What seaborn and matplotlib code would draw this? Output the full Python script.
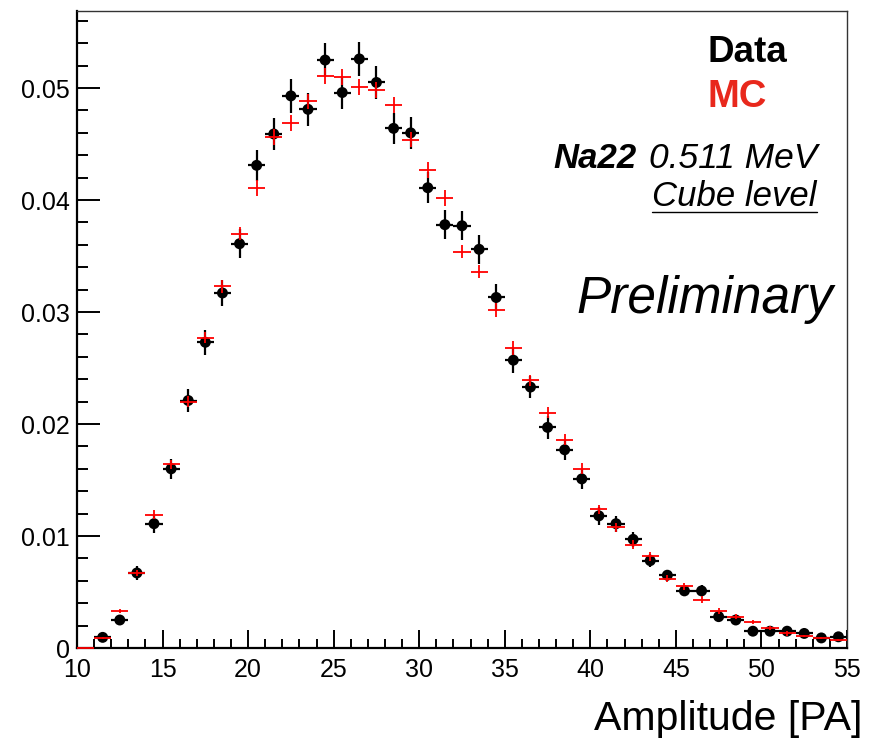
import numpy as np
import pandas as pd
import matplotlib
matplotlib.use("Agg")
import matplotlib.pyplot as plt
from matplotlib.ticker import MultipleLocator, FixedLocator, FixedFormatter
from matplotlib.lines import Line2D
import seaborn as sns

# ---------------- data ----------------
data_x = [11.5, 12.5, 13.5, 14.5, 15.5, 16.5, 17.5, 18.5, 19.5, 20.5, 21.5, 22.5,
          23.5, 24.5, 25.5, 26.5, 27.5, 28.5, 29.5, 30.5, 31.5, 32.5, 33.5, 34.5,
          35.5, 36.5, 37.5, 38.5, 39.5, 40.5, 41.5, 42.5, 43.5, 44.5, 45.5, 46.5,
          47.5, 48.5, 49.5, 50.5, 51.5, 52.5, 53.5, 54.5]
data_y = [0.00095, 0.0025, 0.0067, 0.0111, 0.0160, 0.0221, 0.0273, 0.0317, 0.0361,
          0.0431, 0.0459, 0.0493, 0.0481, 0.0525, 0.0496, 0.0526, 0.0505, 0.0464,
          0.0460, 0.0411, 0.0378, 0.0377, 0.0356, 0.0313, 0.0257, 0.0233, 0.0197,
          0.0177, 0.0151, 0.0118, 0.0111, 0.0097, 0.0078, 0.0065, 0.0051, 0.0051,
          0.0028, 0.0025, 0.0015, 0.0015, 0.0015, 0.0013, 0.0009, 0.0010]
data_err = [0.0003, 0.0004, 0.0006, 0.0008, 0.0009, 0.0010, 0.0011, 0.0012, 0.0013,
            0.0014, 0.0014, 0.0015, 0.0015, 0.0015, 0.0015, 0.0015, 0.0015, 0.0014,
            0.0014, 0.0014, 0.0013, 0.0013, 0.0013, 0.0012, 0.0011, 0.0010, 0.0010,
            0.0009, 0.0009, 0.0008, 0.0007, 0.0007, 0.0006, 0.0005, 0.0005, 0.0005,
            0.0004, 0.0004, 0.0003, 0.0003, 0.0003, 0.0003, 0.0002, 0.0002]

mc_x = [10.5, 11.5, 12.5, 13.5, 14.5, 15.5, 16.5, 17.5, 18.5, 19.5, 20.5, 21.5,
        22.5, 23.5, 24.5, 25.5, 26.5, 27.5, 28.5, 29.5, 30.5, 31.5, 32.5, 33.5,
        34.5, 35.5, 36.5, 37.5, 38.5, 39.5, 40.5, 41.5, 42.5, 43.5, 44.5, 45.5,
        46.5, 47.5, 48.5, 49.5, 50.5, 51.5, 52.5, 53.5, 54.5]
mc_y = [0.0, 0.0009, 0.0033, 0.0067, 0.0119, 0.0164, 0.0220, 0.0277, 0.0323,
        0.0370, 0.0411, 0.0456, 0.0469, 0.0488, 0.0511, 0.0510, 0.0501, 0.0498,
        0.0485, 0.0454, 0.0427, 0.0402, 0.0354, 0.0336, 0.0302, 0.0268, 0.0239,
        0.0210, 0.0186, 0.0160, 0.0124, 0.0108, 0.0092, 0.0082, 0.0062, 0.0055,
        0.0043, 0.0033, 0.0028, 0.0023, 0.0018, 0.0013, 0.0011, 0.0009, 0.0007]
mc_err = [0.0, 0.0001, 0.0002, 0.0003, 0.0004, 0.0004, 0.0005, 0.0005, 0.0006,
          0.0006, 0.0007, 0.0007, 0.0007, 0.0007, 0.0007, 0.0007, 0.0007, 0.0007,
          0.0007, 0.0007, 0.0007, 0.0007, 0.0006, 0.0006, 0.0006, 0.0006, 0.0005,
          0.0005, 0.0005, 0.0005, 0.0004, 0.0004, 0.0004, 0.0004, 0.0003, 0.0003,
          0.0003, 0.0003, 0.0002, 0.0002, 0.0002, 0.0002, 0.0001, 0.0001, 0.0001]

bin_half = 0.5
x_ticks = [10, 15, 20, 25, 30, 35, 40, 45, 50, 55]
x_ticklabels = ["10", "15", "20", "25", "30", "35", "40", "45", "50", "55"]
y_ticks = [0.0, 0.01, 0.02, 0.03, 0.04, 0.05]
y_ticklabels = ["0", "0.01", "0.02", "0.03", "0.04", "0.05"]

# ---------------- style ----------------
sns.set_theme(style="white")
plt.rcParams["font.family"] = ["Liberation Sans", "DejaVu Sans"]

W, H = 870, 738
fig = plt.figure(figsize=(W / 100, H / 100), dpi=100)
ax = fig.add_axes([77 / W, (H - 648) / H, (847 - 77) / W, (648 - 11) / H])

df_data = pd.DataFrame({"x": data_x, "y": data_y, "err": data_err})
df_mc = pd.DataFrame({"x": mc_x, "y": mc_y, "err": mc_err})

# data error bars + markers
ax.errorbar(df_data["x"], df_data["y"], xerr=bin_half, yerr=df_data["err"],
            fmt="none", ecolor="black", elinewidth=1.6, capsize=0, zorder=2)
sns.scatterplot(data=df_data, x="x", y="y", ax=ax, color="black", s=62,
                edgecolor="none", zorder=3, legend=False)
# MC crosses
mc_eb = ax.errorbar(df_mc["x"], df_mc["y"], xerr=bin_half, yerr=df_mc["err"],
                    fmt="none", ecolor="#ff0000", elinewidth=1.3, capsize=0,
                    zorder=4)
for coll in mc_eb[2]:
    coll.set_clip_on(False)

ax.set_xlim(10, 55)
ax.set_ylim(0, 0.05688)
ax.set_xlabel("")
ax.set_ylabel("")

ax.xaxis.set_major_locator(FixedLocator(x_ticks))
ax.xaxis.set_major_formatter(FixedFormatter(x_ticklabels))
ax.xaxis.set_minor_locator(MultipleLocator(1))
ax.yaxis.set_major_locator(FixedLocator(y_ticks))
ax.yaxis.set_major_formatter(FixedFormatter(y_ticklabels))
ax.yaxis.set_minor_locator(MultipleLocator(0.002))

ax.tick_params(axis="x", which="major", direction="in", length=13, width=1.4,
               labelsize=18, pad=7, colors="black", bottom=True, top=False)
ax.tick_params(axis="x", which="minor", direction="in", length=6.5, width=1.4,
               colors="black", bottom=True, top=False)
ax.tick_params(axis="y", which="major", direction="in", length=16.5, width=1.4,
               labelsize=18, pad=5, colors="black", left=True, right=False)
ax.tick_params(axis="y", which="minor", direction="in", length=8, width=1.4,
               colors="black", left=True, right=False)

for side in ["left", "bottom"]:
    ax.spines[side].set_linewidth(1.6)
    ax.spines[side].set_color("black")
for side in ["top", "right"]:
    ax.spines[side].set_linewidth(1.0)
    ax.spines[side].set_color("#333333")
    ax.spines[side].set_visible(True)

def fx(px):
    return px / W

def fy(py):
    return (H - py) / H

# axis title
fig.text(fx(862), fy(730), "Amplitude [PA]", ha="right", va="baseline",
         fontsize=29.5, color="black")

# labels
fig.text(fx(708), fy(62), "Data", ha="left", va="baseline", fontsize=26.5,
         fontweight="bold", color="black")
fig.text(fx(708), fy(107), "MC", ha="left", va="baseline", fontsize=27.5,
         fontweight="bold", color="#e8281c")

fig.text(fx(637), fy(168), "Na22", ha="right", va="baseline", fontsize=25,
         fontweight="bold", fontstyle="italic", color="black")
fig.text(fx(817), fy(168), "0.511 MeV", ha="right", va="baseline", fontsize=25.5,
         fontstyle="italic", color="black")
t_cube = fig.text(fx(817), fy(206), "Cube level", ha="right", va="baseline",
                  fontsize=25, fontstyle="italic", color="black")
fig.text(fx(833), fy(313), "Preliminary", ha="right", va="baseline", fontsize=37,
         fontstyle="italic", color="black")

# underline for "Cube level"
fig.canvas.draw()
bb = t_cube.get_window_extent(fig.canvas.get_renderer())
uy = fy(212)
fig.add_artist(Line2D([bb.x0 / W, bb.x1 / W], [uy, uy], transform=fig.transFigure,
                      color="black", linewidth=1.0))

fig.savefig("out.png", dpi=100)
